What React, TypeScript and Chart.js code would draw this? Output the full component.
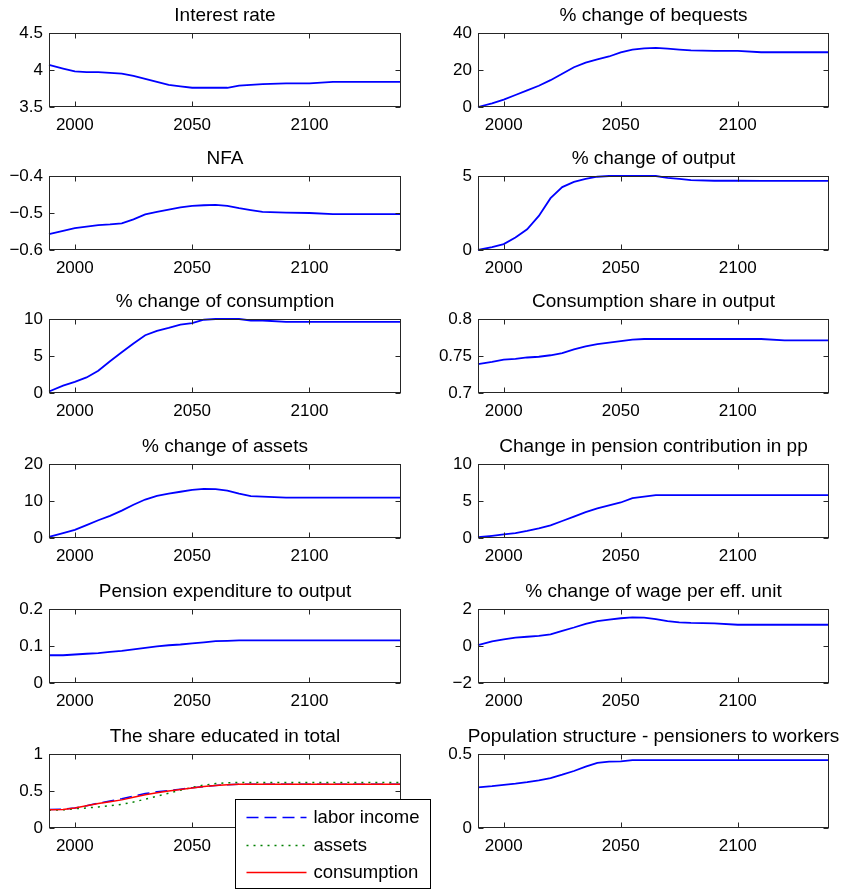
import React, { useEffect, useRef } from 'react';
import { Chart, registerables } from 'chart.js';
Chart.register(...registerables);

// ---------- data ----------
const years = [1989, 1995, 2000, 2005, 2010, 2015, 2020, 2025, 2030, 2035, 2040, 2045, 2050, 2055, 2060, 2065, 2070, 2075, 2080, 2090, 2100, 2110, 2120, 2130, 2139];
const xTicks = [2000, 2050, 2100];

const interestRate = [4.07, 4.02, 3.98, 3.97, 3.97, 3.96, 3.95, 3.92, 3.88, 3.84, 3.80, 3.78, 3.76, 3.76, 3.76, 3.76, 3.79, 3.80, 3.81, 3.82, 3.82, 3.84, 3.84, 3.84, 3.84];
const bequests = [0, 2, 4, 6.5, 9, 11.5, 14.5, 18, 21.5, 24, 25.8, 27.3, 29.5, 31, 31.7, 32, 31.5, 31, 30.6, 30.3, 30.3, 29.6, 29.6, 29.6, 29.6];
const nfa = [-0.557, -0.548, -0.541, -0.537, -0.533, -0.531, -0.528, -0.517, -0.504, -0.497, -0.491, -0.485, -0.481, -0.479, -0.478, -0.481, -0.487, -0.492, -0.497, -0.499, -0.5, -0.503, -0.503, -0.503, -0.503];
const output = [0, 0.2, 0.4, 0.85, 1.4, 2.3, 3.5, 4.25, 4.6, 4.8, 4.95, 5.0, 5.0, 5.0, 5.0, 5.0, 4.88, 4.8, 4.72, 4.68, 4.68, 4.67, 4.67, 4.67, 4.67];
const consumption = [0.2, 1.0, 1.5, 2.1, 3.0, 4.3, 5.5, 6.7, 7.8, 8.4, 8.8, 9.25, 9.45, 9.9, 10, 10, 10, 9.8, 9.8, 9.6, 9.6, 9.6, 9.6, 9.6, 9.6];
const consShare = [0.739, 0.742, 0.745, 0.746, 0.748, 0.749, 0.751, 0.754, 0.759, 0.763, 0.766, 0.768, 0.770, 0.772, 0.773, 0.773, 0.773, 0.773, 0.773, 0.773, 0.773, 0.773, 0.771, 0.771, 0.771];
const assets = [0.3, 1.3, 2.2, 3.5, 4.8, 6.0, 7.4, 9.0, 10.4, 11.4, 12.0, 12.5, 13.0, 13.3, 13.2, 12.8, 12.0, 11.3, 11.2, 10.9, 10.9, 10.9, 10.9, 10.9, 10.9];
const pensionContrib = [0.1, 0.3, 0.5, 0.65, 0.95, 1.3, 1.7, 2.3, 2.9, 3.5, 4.0, 4.4, 4.8, 5.4, 5.6, 5.8, 5.8, 5.8, 5.8, 5.8, 5.8, 5.8, 5.8, 5.8, 5.8];
const pensionExp = [0.075, 0.075, 0.077, 0.079, 0.081, 0.084, 0.087, 0.091, 0.095, 0.099, 0.102, 0.104, 0.107, 0.110, 0.113, 0.114, 0.115, 0.115, 0.115, 0.115, 0.115, 0.115, 0.115, 0.115, 0.115];
const wage = [0.05, 0.25, 0.36, 0.45, 0.5, 0.55, 0.63, 0.82, 1.0, 1.2, 1.35, 1.43, 1.5, 1.55, 1.53, 1.45, 1.35, 1.28, 1.25, 1.22, 1.15, 1.15, 1.15, 1.15, 1.15];
const educLabor = [0.25, 0.255, 0.27, 0.3, 0.335, 0.365, 0.395, 0.43, 0.465, 0.49, 0.505, 0.525, 0.545, 0.56, 0.575, 0.585, 0.59, 0.59, 0.59, 0.59, 0.59, 0.59, 0.59, 0.59, 0.59];
const educAssets = [0.24, 0.245, 0.26, 0.27, 0.285, 0.3, 0.32, 0.35, 0.39, 0.43, 0.47, 0.51, 0.55, 0.58, 0.6, 0.61, 0.615, 0.615, 0.615, 0.615, 0.615, 0.615, 0.615, 0.615, 0.615];
const educCons = [0.245, 0.25, 0.27, 0.3, 0.33, 0.355, 0.38, 0.415, 0.45, 0.475, 0.5, 0.52, 0.54, 0.56, 0.575, 0.585, 0.59, 0.59, 0.59, 0.59, 0.59, 0.59, 0.59, 0.59, 0.59];
const population = [0.275, 0.283, 0.292, 0.3, 0.31, 0.322, 0.337, 0.36, 0.385, 0.415, 0.44, 0.448, 0.45, 0.459, 0.459, 0.459, 0.459, 0.459, 0.459, 0.459, 0.459, 0.459, 0.459, 0.459, 0.459];

const interestTicks = [3.5, 4, 4.5];
const bequestTicks = [0, 20, 40];
const nfaTicks = [-0.6, -0.5, -0.4];
const outputTicks = [0, 5];
const consumptionTicks = [0, 5, 10];
const consShareTicks = [0.7, 0.75, 0.8];
const assetTicks = [0, 10, 20];
const contribTicks = [0, 5, 10];
const expTicks = [0, 0.1, 0.2];
const wageTicks = [-2, 0, 2];
const educTicks = [0, 0.5, 1];
const popTicks = [0, 0.5];

const titles = [
  'Interest rate', '% change of bequests',
  'NFA', '% change of output',
  '% change of consumption', 'Consumption share in output',
  '% change of assets', 'Change in pension contribution in pp',
  'Pension expenditure to output', '% change of wage per eff. unit',
  'The share educated in total', 'Population structure - pensioners to workers',
];
const educLabels = ['labor income', 'assets', 'consumption'];

// ---------- styling / layout ----------
const FONT = '"Liberation Sans", Arial, Helvetica, sans-serif';
const BLUE = '#0000ff';
const GREEN = '#008000';
const RED = '#ff0000';
const ROW_TOPS = [33, 176, 319, 464, 609, 754];
const PLOT_H = 74;
const COLS = [
  { left: 49, width: 352, padR: 10 },
  { left: 478, width: 351, padR: 12 },
];
const Y_AXIS_W = 49;
const TITLE_H = 33;
const X_AXIS_H = 32;

type Series = { label: string; data: number[]; color: string; dash?: number[]; order?: number; width?: number };
type Panel = { title: string; series: Series[]; yTicks: number[]; legend?: boolean };

const blue = (label: string, data: number[]): Series[] => [{ label, data, color: BLUE, width: 1.8 }];

const panels: Panel[] = [
  { title: titles[0], series: blue(titles[0], interestRate), yTicks: interestTicks },
  { title: titles[1], series: blue(titles[1], bequests), yTicks: bequestTicks },
  { title: titles[2], series: blue(titles[2], nfa), yTicks: nfaTicks },
  { title: titles[3], series: blue(titles[3], output), yTicks: outputTicks },
  { title: titles[4], series: blue(titles[4], consumption), yTicks: consumptionTicks },
  { title: titles[5], series: blue(titles[5], consShare), yTicks: consShareTicks },
  { title: titles[6], series: blue(titles[6], assets), yTicks: assetTicks },
  { title: titles[7], series: blue(titles[7], pensionContrib), yTicks: contribTicks },
  { title: titles[8], series: blue(titles[8], pensionExp), yTicks: expTicks },
  { title: titles[9], series: blue(titles[9], wage), yTicks: wageTicks },
  {
    title: titles[10],
    series: [
      { label: educLabels[0], data: educLabor, color: BLUE, dash: [12, 6], order: 2 },
      { label: educLabels[1], data: educAssets, color: GREEN, dash: [2, 5], order: 1 },
      { label: educLabels[2], data: educCons, color: RED, order: 0 },
    ],
    yTicks: educTicks,
    legend: true,
  },
  { title: titles[11], series: blue(titles[11], population), yTicks: popTicks },
];

const fmt = (v: number) => String(v).replace('-', '\u2212');

// Title centred over the plot area (as MATLAB does)
const titlePlugin = {
  id: 'matlabTitle',
  afterDraw(chart: any) {
    const opts = chart.options.plugins.matlabTitle;
    if (!opts || !opts.text) return;
    const { ctx, chartArea: a } = chart;
    ctx.save();
    ctx.fillStyle = '#000';
    ctx.font = `19px ${FONT}`;
    ctx.textAlign = 'center';
    ctx.textBaseline = 'alphabetic';
    ctx.fillText(opts.text, (a.left + a.right) / 2, a.top - 12.5);
    ctx.restore();
  },
};

const framePlugin = {
  id: 'matlabFrame',
  afterDatasetsDraw(chart: any) {
    const { ctx, chartArea: a, scales } = chart;
    const L = Math.round(a.left) + 0.5;
    const R = Math.round(a.right) - 0.5;
    const T = Math.round(a.top) + 0.5;
    const B = Math.round(a.bottom) - 0.5;
    ctx.save();
    ctx.strokeStyle = '#262626';
    ctx.lineWidth = 1;
    ctx.strokeRect(L, T, R - L, B - T);
    const tl = 5;
    ctx.beginPath();
    for (const t of scales.x.ticks) {
      const px = Math.round(scales.x.getPixelForValue(t.value)) + 0.5;
      ctx.moveTo(px, B); ctx.lineTo(px, B - tl);
      ctx.moveTo(px, T); ctx.lineTo(px, T + tl);
    }
    for (const t of scales.y.ticks) {
      const py = Math.round(scales.y.getPixelForValue(t.value)) + 0.5;
      ctx.moveTo(L, py); ctx.lineTo(L + tl, py);
      ctx.moveTo(R, py); ctx.lineTo(R - tl, py);
    }
    ctx.stroke();
    ctx.restore();
  },
};

const legendPlugin = {
  id: 'matlabLegend',
  afterDraw(chart: any) {
    const opts = chart.options.plugins.matlabLegend;
    if (!opts || !opts.show) return;
    const { ctx, chartArea: a } = chart;
    const x0 = Math.round(a.left) + 186.5;
    const y0 = Math.round(a.bottom) - 28.5;
    const w = 195;
    const h = 89;
    ctx.save();
    ctx.fillStyle = '#ffffff';
    ctx.fillRect(x0, y0, w, h);
    ctx.strokeStyle = '#000000';
    ctx.lineWidth = 1;
    ctx.strokeRect(x0, y0, w, h);
    const rows = [18, 46, 73];
    chart.data.datasets.forEach((ds: any, i: number) => {
      const y = y0 + rows[i];
      ctx.beginPath();
      ctx.strokeStyle = ds.borderColor;
      ctx.lineWidth = 1.5;
      ctx.setLineDash(ds.borderDash || []);
      ctx.moveTo(x0 + 11, y);
      ctx.lineTo(x0 + 71, y);
      ctx.stroke();
      ctx.setLineDash([]);
      ctx.fillStyle = '#000';
      ctx.font = `18.5px ${FONT}`;
      ctx.textBaseline = 'middle';
      ctx.textAlign = 'left';
      ctx.fillText(ds.label, x0 + 78, y);
    });
    ctx.restore();
  },
};

function PanelChart({ panel, index }: { panel: Panel; index: number }) {
  const ref = useRef<HTMLCanvasElement | null>(null);
  const col = COLS[index % 2];
  const rowTop = ROW_TOPS[Math.floor(index / 2)];
  const left = col.left - Y_AXIS_W;
  const top = rowTop - TITLE_H;
  const padR = panel.legend ? 432 - (col.left + col.width) : col.padR;
  const xH = panel.legend ? 890 - (rowTop + PLOT_H) : X_AXIS_H;
  const width = Y_AXIS_W + col.width + padR;
  const height = TITLE_H + PLOT_H + xH;

  useEffect(() => {
    if (!ref.current) return;
    const yt = panel.yTicks;
    const chart = new Chart(ref.current, {
      type: 'line',
      data: {
        datasets: panel.series.map((s) => ({
          label: s.label,
          data: years.map((yr, i) => ({ x: yr, y: s.data[i] })),
          borderColor: s.color,
          backgroundColor: s.color,
          borderWidth: s.width ?? 1.5,
          borderDash: s.dash || [],
          pointRadius: 0,
          tension: 0,
          fill: false,
          clip: false,
          order: s.order ?? 0,
        })),
      },
      options: {
        animation: false,
        responsive: false,
        events: [],
        layout: { padding: { left: 0, right: padR, top: TITLE_H, bottom: 0 } },
        plugins: {
          legend: { display: false },
          tooltip: { enabled: false },
          title: { display: false },
          matlabTitle: { text: panel.title },
          matlabLegend: { show: !!panel.legend },
        } as any,
        scales: {
          x: {
            type: 'linear',
            min: 1989,
            max: 2139,
            grid: { display: false, drawTicks: false },
            border: { display: false },
            ticks: {
              color: '#000',
              font: { family: FONT, size: 17 },
              padding: 8,
              maxRotation: 0,
              autoSkip: false,
              callback: (v: any) => String(v),
            },
            afterBuildTicks: (s: any) => { s.ticks = xTicks.map((v) => ({ value: v })); },
            afterFit: (s: any) => { s.height = xH; },
          },
          y: {
            type: 'linear',
            min: yt[0],
            max: yt[yt.length - 1],
            grid: { display: false, drawTicks: false },
            border: { display: false },
            ticks: {
              color: '#000',
              font: { family: FONT, size: 17 },
              padding: 6,
              autoSkip: false,
              callback: (v: any) => fmt(v),
            },
            afterBuildTicks: (s: any) => { s.ticks = yt.map((v) => ({ value: v })); },
            afterFit: (s: any) => { s.width = Y_AXIS_W; },
          },
        },
      } as any,
      plugins: [framePlugin, titlePlugin, legendPlugin],
    });
    return () => chart.destroy();
  }, []);

  return (
    <canvas
      ref={ref}
      width={width}
      height={height}
      style={{ position: 'absolute', left, top, width, height, zIndex: panel.legend ? 2 : 1 }}
    />
  );
}

export default function App() {
  return (
    <div style={{ position: 'absolute', left: 0, top: 0, width: 843, height: 890, background: '#fff', overflow: 'hidden' }}>
      {panels.map((p, i) => (
        <PanelChart key={i} panel={p} index={i} />
      ))}
    </div>
  );
}
